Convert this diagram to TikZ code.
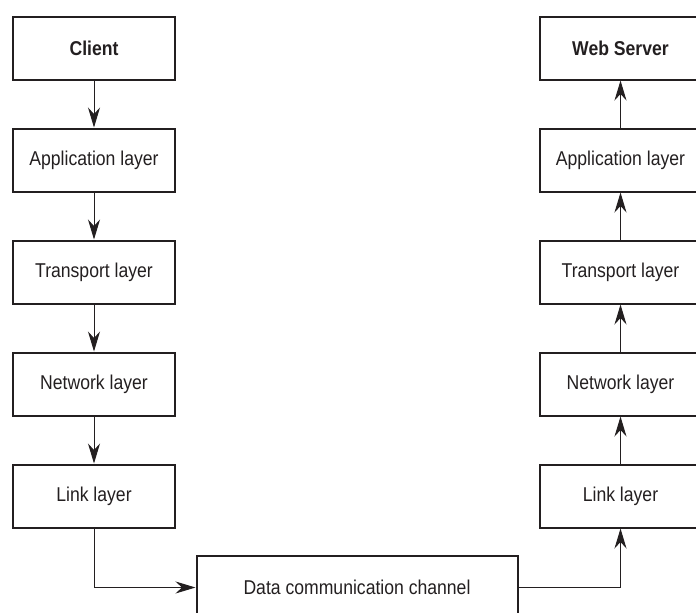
\documentclass[tikz,border=0pt]{standalone}
\usepackage{fontspec}
\setmainfont{Liberation Sans}[FakeStretch=0.88]
\usetikzlibrary{arrows.meta, positioning}
\definecolor{ink}{HTML}{231F20}

\begin{document}
\begin{tikzpicture}[
    x=1pt, y=1pt,
    layerbox/.style={rectangle, draw=ink, line width=2pt, minimum width=162pt, minimum height=63pt, text=ink, font=\fontsize{20}{23}\selectfont},
    hostbox/.style={layerbox, font=\fontsize{20}{23}\selectfont\bfseries},
    arrow/.style={draw=ink, line width=1pt, -{Stealth[length=20pt, width=12pt, inset=6.5pt]}},
    node distance=47pt
  ]
  \useasboundingbox (0,0) rectangle (696,-613);

  % client stack, top down
  \node[hostbox] (client) at (94,-48) {Client};
  \node[layerbox, below=of client] (capp) {Application layer};
  \node[layerbox, below=of capp] (ctrans) {Transport layer};
  \node[layerbox, below=of ctrans] (cnet) {Network layer};
  \node[layerbox, below=of cnet] (clink) {Link layer};

  % server stack, bottom up
  \node[hostbox] (server) at (620.5,-48) {Web Server};
  \node[layerbox, below=of server] (sapp) {Application layer};
  \node[layerbox, below=of sapp] (strans) {Transport layer};
  \node[layerbox, below=of strans] (snet) {Network layer};
  \node[layerbox, below=of snet] (slink) {Link layer};

  \node[layerbox, minimum width=321pt] (channel) at (357,-587.5) {Data communication channel};

  \draw[arrow] (client) -- (capp);
  \draw[arrow] (capp) -- (ctrans);
  \draw[arrow] (ctrans) -- (cnet);
  \draw[arrow] (cnet) -- (clink);
  \draw[arrow] (clink) |- (channel);

  \draw[arrow] (channel) -| (slink);
  \draw[arrow] (slink) -- (snet);
  \draw[arrow] (snet) -- (strans);
  \draw[arrow] (strans) -- (sapp);
  \draw[arrow] (sapp) -- (server);
\end{tikzpicture}
\end{document}
